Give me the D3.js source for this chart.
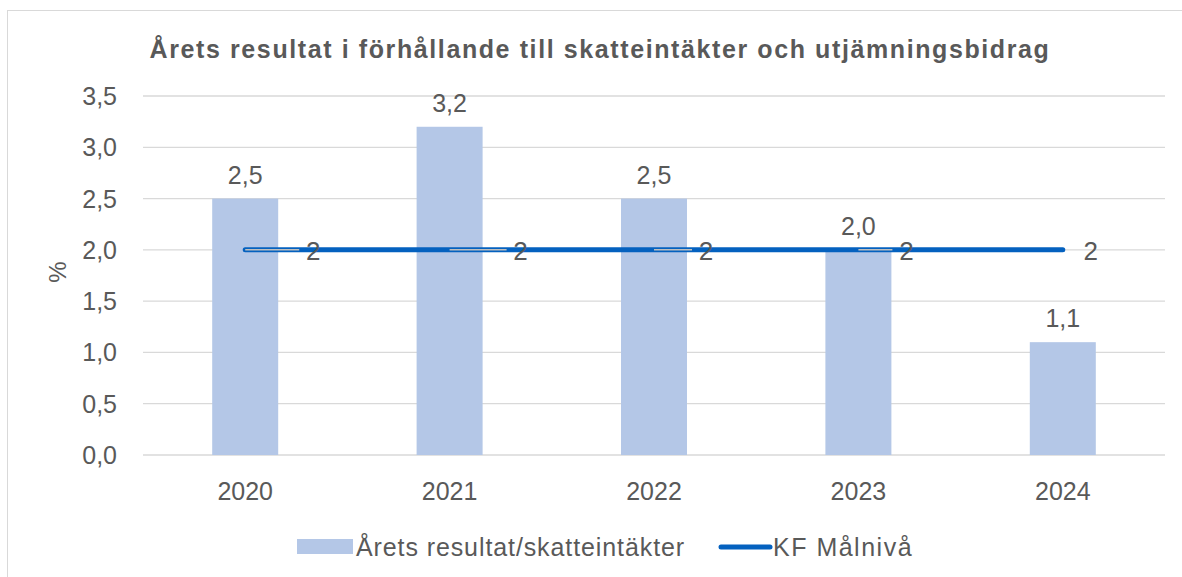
<!DOCTYPE html>
<html>
<head>
<meta charset="utf-8">
<script src="https://cdn.jsdelivr.net/npm/d3@7"></script>
<style>
  body { margin: 0; background: #fff; }
  text { font-family: "Liberation Sans", Arial, sans-serif; fill: #595959; }
</style>
</head>
<body>
<svg width="1182" height="577"></svg>
<script>
// data
var years = ["2020", "2021", "2022", "2023", "2024"];
var resultat = [2.5, 3.2, 2.5, 2.0, 1.1];
var malniva = [2, 2, 2, 2, 2];
var yTicks = [0, 0.5, 1, 1.5, 2, 2.5, 3, 3.5];
// label offsets for line labels (px right of category centre)
var lineLabelDx = [68, 71, 52, 48, 28];

var svg = d3.select("svg");
var fmt = function(v) { return d3.format(".1f")(v).replace(".", ","); };

svg.append("rect")
   .attr("x", 7.5).attr("y", 10.5).attr("width", 1200).attr("height", 600)
   .attr("fill", "#fff").attr("stroke", "#d9d9d9");

var x = d3.scaleBand().domain(years).range([143, 1165]);
var y = d3.scaleLinear().domain([0, 3.5]).range([455, 96]);

// gridlines
svg.selectAll(".grid").data(yTicks).enter()
   .append("line")
   .attr("x1", 143).attr("x2", 1165)
   .attr("y1", function(d) { return y(d); })
   .attr("y2", function(d) { return y(d); })
   .attr("stroke", "#d9d9d9").attr("stroke-width", 1.3);

// y tick labels
svg.selectAll(".ytick").data(yTicks).enter()
   .append("text")
   .attr("x", 117).attr("y", function(d) { return y(d) + 9; })
   .attr("text-anchor", "end").attr("font-size", 25)
   .text(fmt);

// bars
var bw = 66;
svg.selectAll(".bar").data(resultat).enter()
   .append("rect")
   .attr("x", function(d, i) { return x(years[i]) + x.bandwidth() / 2 - bw / 2; })
   .attr("y", function(d) { return y(d); })
   .attr("width", bw)
   .attr("height", function(d) { return y(0) - y(d); })
   .attr("fill", "#b4c7e7");

// bar labels
svg.selectAll(".blab").data(resultat).enter()
   .append("text")
   .attr("x", function(d, i) { return x(years[i]) + x.bandwidth() / 2; })
   .attr("y", function(d) { return y(d) - 15; })
   .attr("text-anchor", "middle").attr("font-size", 25)
   .text(fmt);

// line
var line = d3.line()
   .x(function(d, i) { return x(years[i]) + x.bandwidth() / 2; })
   .y(function(d) { return y(d); });
svg.append("path").datum(malniva)
   .attr("d", line)
   .attr("fill", "none").attr("stroke", "#0461bf")
   .attr("stroke-width", 5).attr("stroke-linecap", "round");

// leader lines for line labels
svg.selectAll(".lead").data(malniva).enter()
   .append("line")
   .attr("x1", function(d, i) { return x(years[i]) + x.bandwidth() / 2; })
   .attr("x2", function(d, i) { return x(years[i]) + x.bandwidth() / 2 + lineLabelDx[i] - 14; })
   .attr("y1", function(d) { return y(d); })
   .attr("y2", function(d) { return y(d); })
   .attr("stroke", "#bfbfbf").attr("stroke-width", 1.5)
   .style("display", function(d, i) { return i == 4 ? "none" : null; });

svg.selectAll(".llab").data(malniva).enter()
   .append("text")
   .attr("x", function(d, i) { return x(years[i]) + x.bandwidth() / 2 + lineLabelDx[i]; })
   .attr("y", function(d) { return y(d) + 10; })
   .attr("text-anchor", "middle").attr("font-size", 26)
   .text(function(d) { return d; });

// x labels
svg.selectAll(".xlab").data(years).enter()
   .append("text")
   .attr("x", function(d) { return x(d) + x.bandwidth() / 2; })
   .attr("y", 500)
   .attr("text-anchor", "middle").attr("font-size", 25)
   .text(function(d) { return d; });

// axis title
svg.append("text")
   .attr("transform", "translate(66,272) rotate(-90)")
   .attr("text-anchor", "middle").attr("font-size", 24)
   .text("%");

// title
svg.append("text")
   .attr("x", 600).attr("y", 58)
   .attr("text-anchor", "middle").attr("font-size", 25).attr("font-weight", "bold")
   .attr("letter-spacing", 1.6)
   .text("Årets resultat i förhållande till skatteintäkter och utjämningsbidrag");

// legend
svg.append("rect").attr("x", 297).attr("y", 539).attr("width", 56).attr("height", 15).attr("fill", "#b4c7e7");
svg.append("text").attr("x", 356).attr("y", 556).attr("font-size", 25).attr("letter-spacing", 0.9).text("Årets resultat/skatteintäkter");
svg.append("line").attr("x1", 721).attr("x2", 770).attr("y1", 547).attr("y2", 547)
   .attr("stroke", "#0461bf").attr("stroke-width", 5).attr("stroke-linecap", "round");
svg.append("text").attr("x", 773).attr("y", 556).attr("font-size", 25).attr("letter-spacing", 1.5).text("KF Målnivå");
</script>
</body>
</html>
